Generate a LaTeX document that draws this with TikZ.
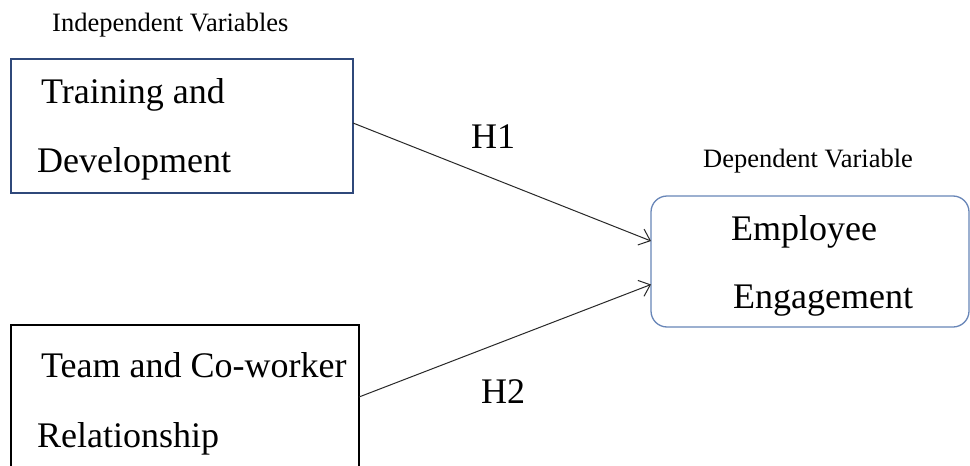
\documentclass[tikz,border=0pt]{standalone}
\usepackage{fontspec}
\setmainfont{Liberation Serif}
\usetikzlibrary{arrows.meta}
\definecolor{navyb}{RGB}{47,72,122}
\definecolor{steelb}{RGB}{104,134,184}
\definecolor{linec}{RGB}{40,40,40}
\begin{document}
\begin{tikzpicture}[x=1pt,y=-1pt,
  boxbase/.style={rectangle, line width=1.3pt, inner sep=0pt, outer sep=0pt},
  bigtxt/.style={inner sep=0pt, anchor=base west, font=\fontsize{36}{36}\selectfont},
  headtxt/.style={inner sep=0pt, anchor=base west, font=\fontsize{26.5}{26.5}\selectfont},
  conn/.style={draw=linec, line width=1pt, -{Straight Barb[length=10pt,width=17pt,line width=1pt]}}]
\useasboundingbox (0,0) rectangle (970,466);
\clip (0,0) rectangle (970,466);
\fill[white] (0,0) rectangle (970,466);
% boxes
\node[boxbase, draw=navyb, minimum width=342pt, minimum height=134pt] (b1) at (182,126) {};
\node[boxbase, draw=black, minimum width=348pt, minimum height=144pt] (b2) at (185,397) {};
\node[boxbase, draw=steelb, rounded corners=16pt, minimum width=318pt, minimum height=131pt] (b3) at (810,261.5) {};
% headers
\node[headtxt] (hi) at (52,31) {Independent Variables};
\node[headtxt] (hd) at (703,167) {Dependent Variable};
% box texts
\node[bigtxt] (t1a) at (41,103) {Training and};
\node[bigtxt] (t1b) at (37,172) {Development};
\node[bigtxt] (t2a) at (41,377) {Team and Co-worker};
\node[bigtxt] (t2b) at (37,447) {Relationship};
\node[bigtxt] (t3a) at (731,240) {Employee};
\node[bigtxt] (t3b) at (733,308) {Engagement};
% hypothesis labels
\node[bigtxt] (h1) at (471,148) {H1};
\node[bigtxt] (h2) at (481,403) {H2};
% connectors
\draw[conn] ([yshift=3pt]b1.east) -- ([yshift=20.5pt]b3.west);
\draw[conn] (b2.east) -- ([yshift=-23pt]b3.west);
\end{tikzpicture}
\end{document}
